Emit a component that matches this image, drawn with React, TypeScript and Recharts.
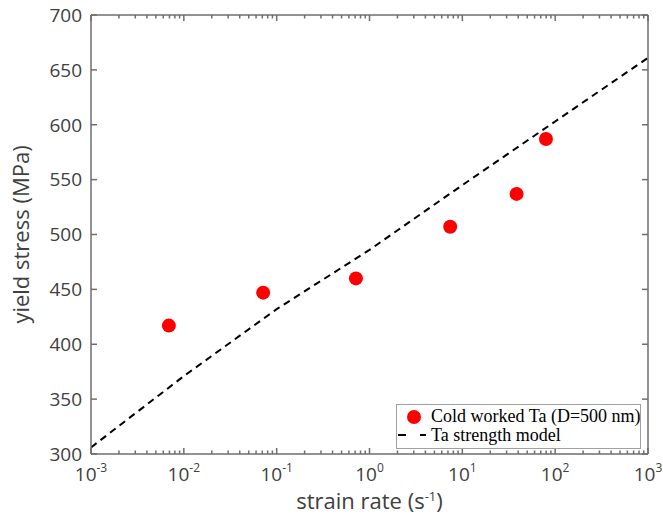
import React from 'react';
import { ComposedChart, Scatter, Line, XAxis, YAxis } from 'recharts';

// measured points (cold worked Ta, D=500 nm)
const strainRates = [0.0069, 0.0715, 0.714, 7.4, 38.4, 79.6];
const yieldStress = [417, 447, 460, 507, 537, 587];

// strength model curve
const modelRates = [0.001, 0.01, 0.1, 1, 10, 100, 1000];
const modelStress = [306, 371, 432, 486, 545, 603, 661];

const yTicks = [300, 350, 400, 450, 500, 550, 600, 650, 700];
const decades = [-3, -2, -1, 0, 1, 2, 3];

const xTicks: number[] = [];
decades.forEach((d) => {
  xTicks.push(Math.pow(10, d));
  if (d < 3) {
    for (let m = 2; m <= 9; m++) xTicks.push(m * Math.pow(10, d));
  }
});

const measured = strainRates.map((x, i) => ({ x, y: yieldStress[i] }));
const model = modelRates.map((x, i) => ({ x, y: modelStress[i] }));

const AXIS = '#6e6e6e';
const TEXT = '#404040';
const SANS = '"Open Sans", sans-serif';
const SERIF = '"Liberation Serif", serif';
const LW = 1.5;

const isMajor = (v: number) => {
  const e = Math.log10(v);
  return Math.abs(e - Math.round(e)) < 1e-6;
};

const BottomTick = (props: any) => {
  const { x, y, payload } = props;
  const major = isMajor(payload.value);
  const exp = Math.round(Math.log10(payload.value));
  return (
    <g>
      <line x1={x} y1={y} x2={x} y2={y - (major ? 6 : 3.5)} stroke={AXIS} strokeWidth={LW} />
      {major && (
        <text x={x} y={y + 27} textAnchor="middle" fill={TEXT} fontFamily={SANS} fontSize={19}>
          10<tspan dy={-9} fontSize={12}>{exp}</tspan>
        </text>
      )}
    </g>
  );
};

const TopTick = (props: any) => {
  const { x, y, payload } = props;
  const major = isMajor(payload.value);
  return <line x1={x} y1={y} x2={x} y2={y + (major ? 6 : 3.5)} stroke={AXIS} strokeWidth={LW} />;
};

const LeftTick = (props: any) => {
  const { x, y, payload } = props;
  return (
    <g>
      <line x1={x} y1={y} x2={x + 6} y2={y} stroke={AXIS} strokeWidth={LW} />
      <text x={x - 9} y={y} dy="0.36em" textAnchor="end" fill={TEXT} fontFamily={SANS} fontSize={19}>
        {payload.value}
      </text>
    </g>
  );
};

const RightTick = (props: any) => {
  const { x, y } = props;
  return <line x1={x} y1={y} x2={x - 6} y2={y} stroke={AXIS} strokeWidth={LW} />;
};

const Dot = (props: any) => <circle cx={props.cx} cy={props.cy} r={7} fill="#ff0000" />;

const YLabel = (props: any) => {
  const vb = props.viewBox;
  const cy = vb.y + vb.height / 2;
  return (
    <text x={29} y={cy} transform={`rotate(-90 29 ${cy})`} textAnchor="middle" fill={TEXT} fontFamily={SANS} fontSize={22}>
      yield stress (MPa)
    </text>
  );
};

const XLabel = (props: any) => {
  const vb = props.viewBox;
  const cx = vb.x + vb.width / 2;
  return (
    <text x={cx} y={509} textAnchor="middle" fill={TEXT} fontFamily={SANS} fontSize={22}>
      strain rate (s<tspan dy={-8} fontSize={13}>-1</tspan><tspan dy={8}>)</tspan>
    </text>
  );
};

export default function App() {
  return (
    <div style={{ position: 'absolute', left: 0, top: 0, width: 663, height: 519, background: '#fff' }}>
      <ComposedChart width={663} height={519} margin={{ top: 14, right: 14, bottom: 0, left: 0 }}>
        <XAxis
          xAxisId="b"
          dataKey="x"
          type="number"
          scale="log"
          domain={[0.001, 1000]}
          allowDataOverflow
          ticks={xTicks}
          interval={0}
          height={65}
          tickSize={0}
          tickMargin={0}
          tickLine={false}
          axisLine={{ stroke: AXIS, strokeWidth: LW }}
          tick={<BottomTick />}
          label={<XLabel />}
        />
        <XAxis
          xAxisId="t"
          orientation="top"
          dataKey="x"
          type="number"
          scale="log"
          domain={[0.001, 1000]}
          allowDataOverflow
          ticks={xTicks}
          interval={0}
          height={1}
          tickSize={0}
          tickMargin={0}
          axisLine={{ stroke: AXIS, strokeWidth: LW }}
          tick={<TopTick />}
        />
        <YAxis
          yAxisId="l"
          type="number"
          domain={[300, 700]}
          allowDataOverflow
          ticks={yTicks}
          interval={0}
          width={91}
          tickSize={0}
          tickMargin={0}
          tickLine={false}
          axisLine={{ stroke: AXIS, strokeWidth: LW }}
          tick={<LeftTick />}
          label={<YLabel />}
        />
        <YAxis
          yAxisId="r"
          orientation="right"
          type="number"
          domain={[300, 700]}
          allowDataOverflow
          ticks={yTicks}
          interval={0}
          width={1}
          tickSize={0}
          tickMargin={0}
          axisLine={{ stroke: AXIS, strokeWidth: LW }}
          tick={<RightTick />}
        />
        {/* invisible copy bound to the top/right axes so the box is drawn */}
        <Line
          xAxisId="t"
          yAxisId="r"
          data={model}
          dataKey="y"
          stroke="none"
          dot={false}
          activeDot={false}
          isAnimationActive={false}
        />
        <Line
          xAxisId="b"
          yAxisId="l"
          data={model}
          dataKey="y"
          type="linear"
          stroke="#000"
          strokeWidth={2}
          strokeDasharray="7 5"
          dot={false}
          isAnimationActive={false}
        />
        <Scatter
          xAxisId="b"
          yAxisId="l"
          data={measured}
          dataKey="y"
          shape={<Dot />}
          isAnimationActive={false}
        />
      </ComposedChart>
      <div
        style={{
          position: 'absolute',
          left: 396,
          top: 404,
          width: 243,
          height: 43,
          border: '1px solid #a0a0a0',
          background: '#fff',
        }}
      >
        <svg width={243} height={43} style={{ display: 'block' }}>
          <circle cx={17} cy={12} r={7} fill="#ff0000" />
          <text x={34} y={17} fontFamily={SERIF} fontSize={18} fill="#000">
            Cold worked Ta (D=500 nm)
          </text>
          <line x1={1} y1={30} x2={29} y2={30} stroke="#000" strokeWidth={2} strokeDasharray="8 14" />
          <text x={34} y={36} fontFamily={SERIF} fontSize={18} fill="#000">
            Ta strength model
          </text>
        </svg>
      </div>
    </div>
  );
}
